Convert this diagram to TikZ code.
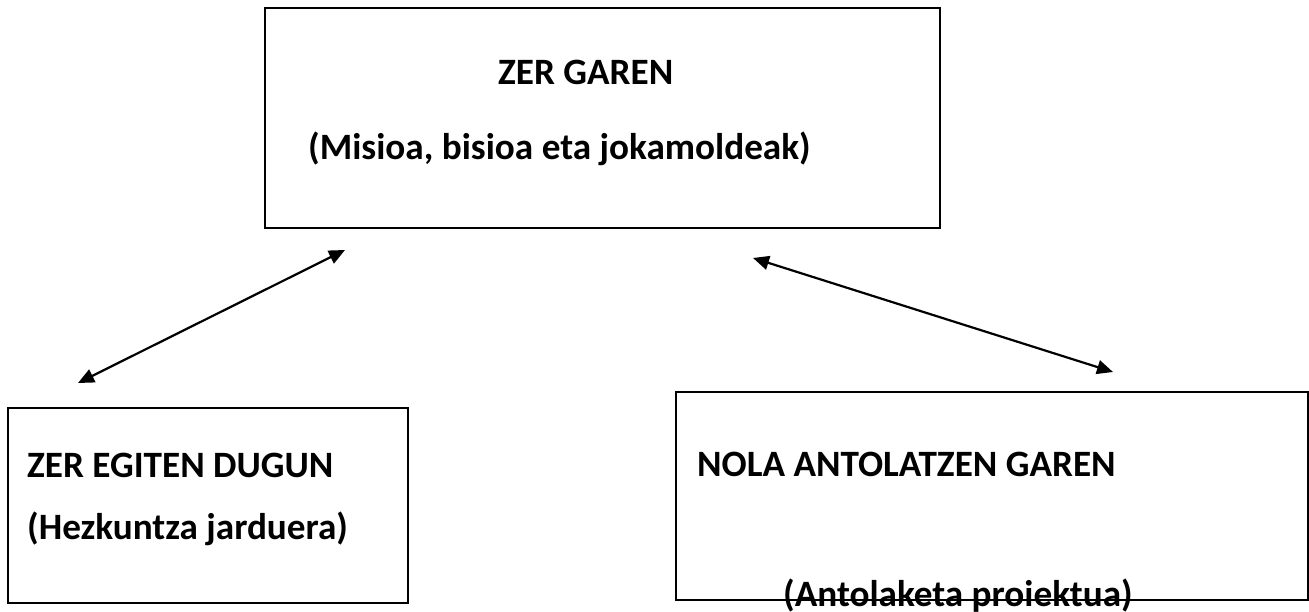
\documentclass[tikz,border=0pt]{standalone}
\usepackage{fontspec}
\setmainfont{Carlito}
\usetikzlibrary{arrows.meta}

\begin{document}
\begin{tikzpicture}[x=1pt,y=-1pt,
    panel/.style={draw,line width=1.6pt,inner sep=0pt},
    boxtext/.style={anchor=base west,inner sep=0pt,font=\fontsize{37.2}{44}\selectfont\bfseries},
    link/.style={line width=2.2pt,{Triangle[length=16pt,width=14pt]}-{Triangle[length=16pt,width=14pt]}}]
      \useasboundingbox (0,0) rectangle (1309,612);

      \node[panel,minimum width=675pt,minimum height=220pt] (garen) at (602.5,118) {};
      \node[boxtext] (garenT) at (498,85) {ZER GAREN};
      \node[boxtext] (garenS) at (308,160) {(Misioa, bisioa eta jokamoldeak)};

      \node[panel,minimum width=400pt,minimum height=195pt] (egiten) at (208,505.5) {};
      \node[boxtext] (egitenT) at (27,477) {ZER EGITEN DUGUN};
      \node[boxtext] (egitenS) at (27,539) {(Hezkuntza jarduera)};

      \node[panel,minimum width=632pt,minimum height=208pt] (antol) at (992,496) {};
      \node[boxtext] (antolT) at (697,476) {NOLA ANTOLATZEN GAREN};
      \node[boxtext] (antolS) at (783,606) {(Antolaketa proiektua)};

      \coordinate (a1) at (78,383);
      \coordinate (a2) at (345,250);
      \coordinate (b1) at (753,258);
      \coordinate (b2) at (1113,372);

      \draw[link] (a1) -- (a2);
      \draw[link] (b1) -- (b2);

    \end{tikzpicture}
\end{document}
